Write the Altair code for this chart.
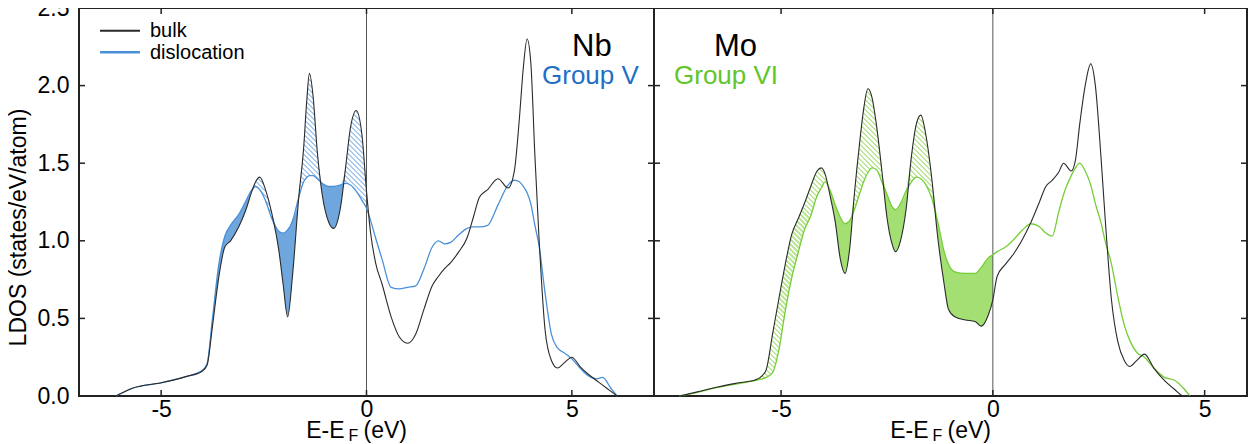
import altair as alt
import numpy as np
import pandas as pd

FONT = "Liberation Sans"

# ---------------- data ----------------
nb_E = [-6.1, -5.7, -5.0, -4.4, -4.0, -3.88, -3.75, -3.6, -3.45, -3.31, -3.11, -2.95,
        -2.79, -2.70, -2.60, -2.46, -2.30, -2.13, -2.03, -1.92, -1.80, -1.65, -1.53,
        -1.45, -1.39, -1.30, -1.20, -1.08, -0.92, -0.80, -0.63, -0.51, -0.39, -0.25,
        -0.11, 0.0, 0.1, 0.22, 0.38, 0.6, 0.8, 1.0, 1.2, 1.4, 1.6, 1.75, 1.9, 2.05,
        2.25, 2.45, 2.6, 2.75, 2.95, 3.2, 3.45, 3.6, 3.72, 3.82, 3.91, 4.0, 4.1, 4.2,
        4.35, 4.5, 4.65, 4.8, 5.0, 5.2, 5.4, 5.6, 5.75, 5.95, 6.1]
nb_bulk = [0.00, 0.05, 0.085, 0.125, 0.16, 0.20, 0.45, 0.76, 0.96, 1.00, 1.09, 1.19,
           1.32, 1.38, 1.41, 1.33, 1.17, 0.93, 0.72, 0.51, 0.78, 1.28, 1.60,
           1.92, 2.08, 1.93, 1.58, 1.30, 1.12, 1.08, 1.22, 1.47, 1.73, 1.84,
           1.68, 1.32, 1.05, 0.86, 0.72, 0.51, 0.38, 0.34, 0.40, 0.56, 0.71, 0.77, 0.82, 0.86,
           0.93, 1.02, 1.15, 1.28, 1.33, 1.40, 1.34, 1.45, 1.78, 2.12, 2.30, 2.15, 1.55, 1.02,
           0.42, 0.23, 0.18, 0.21, 0.25, 0.19, 0.14, 0.10, 0.07, 0.03, 0.00]
nb_disl = [0.00, 0.05, 0.085, 0.125, 0.165, 0.21, 0.50, 0.84, 1.03, 1.10, 1.17, 1.25,
           1.33, 1.35, 1.33, 1.26, 1.14, 1.06, 1.05, 1.07, 1.13, 1.28, 1.38,
           1.41, 1.42, 1.42, 1.40, 1.37, 1.35, 1.35, 1.36, 1.37, 1.36, 1.32,
           1.26, 1.21, 1.13, 1.02, 0.88, 0.70, 0.69, 0.70, 0.71, 0.82, 0.96, 1.00, 0.98, 0.99,
           1.04, 1.08, 1.09, 1.09, 1.10, 1.23, 1.36, 1.39, 1.38, 1.35, 1.31, 1.24, 1.10, 0.97,
           0.66, 0.40, 0.31, 0.28, 0.24, 0.18, 0.13, 0.11, 0.12, 0.05, 0.00]

mo_E = [-7.4, -7.0, -6.5, -6.0, -5.6, -5.45, -5.35, -5.2, -5.05, -4.9, -4.75, -4.6,
        -4.45, -4.3, -4.15, -4.05, -3.96, -3.85, -3.72, -3.60, -3.49, -3.38, -3.27,
        -3.15, -3.05, -2.95, -2.85, -2.75, -2.62, -2.50, -2.38, -2.30, -2.18, -2.05,
        -1.92, -1.80, -1.70, -1.58, -1.45, -1.30, -1.15, -1.05, -0.90, -0.65, -0.42,
        -0.27, -0.11, 0.0, 0.1, 0.3, 0.5, 0.7, 0.9, 1.1, 1.25, 1.4, 1.55, 1.67, 1.85,
        1.95, 2.05, 2.18, 2.31, 2.42, 2.55, 2.65, 2.8, 2.95, 3.1, 3.23, 3.4, 3.58, 3.8,
        4.05, 4.3, 4.5, 4.65]
mo_bulk = [0.0, 0.025, 0.058, 0.085, 0.105, 0.13, 0.17, 0.40, 0.63, 0.85, 1.04, 1.14,
           1.24, 1.35, 1.45, 1.47, 1.43, 1.30, 1.12, 0.88, 0.79, 0.95, 1.30,
           1.62, 1.85, 1.98, 1.92, 1.75, 1.45, 1.15, 0.98, 0.93, 1.00, 1.20,
           1.55, 1.76, 1.81, 1.68, 1.42, 1.02, 0.72, 0.56, 0.51, 0.49, 0.48,
           0.45, 0.52, 0.62, 0.77, 0.85, 0.92, 1.01, 1.12, 1.25, 1.35, 1.39, 1.44, 1.50, 1.45,
           1.52, 1.75, 2.00, 2.14, 2.00, 1.55, 1.15, 0.62, 0.35, 0.23, 0.19, 0.23, 0.27, 0.18,
           0.10, 0.04, 0.00, 0.00]
mo_disl = [0.0, 0.022, 0.055, 0.08, 0.10, 0.11, 0.12, 0.15, 0.30, 0.55, 0.76, 0.92,
           1.07, 1.16, 1.29, 1.34, 1.38, 1.33, 1.23, 1.15, 1.11, 1.13, 1.20,
           1.30, 1.38, 1.44, 1.47, 1.46, 1.38, 1.30, 1.22, 1.20, 1.24, 1.32,
           1.38, 1.41, 1.40, 1.36, 1.28, 1.12, 0.93, 0.85, 0.80, 0.79, 0.79,
           0.83, 0.89, 0.91, 0.93, 0.96, 1.01, 1.07, 1.11, 1.09, 1.05, 1.03, 1.18, 1.30, 1.42,
           1.47, 1.50, 1.45, 1.36, 1.24, 1.12, 1.00, 0.85, 0.64, 0.46, 0.36, 0.28, 0.25, 0.18,
           0.12, 0.10, 0.05, 0.00]

y_ticks = [0.0, 0.5, 1.0, 1.5, 2.0, 2.5]
x_ticks = [-5, 0, 5]
legend_labels = ["bulk", "dislocation"]

# ---------------- layout / style ----------------
H = 388
W_NB = 575
W_MO = 593
PAD_LEFT = 71
BULK_COLOR = "#2a2a2a"
FRAME = "#222222"


def hatch_gradient(fill, domain, width, color):
    w = (fill["E"].max() - fill["E"].min()) * width / (domain[1] - domain[0])
    h = (fill["upper"].max() - fill["disl"].min()) * H / 2.5
    s = (w * w + h * h) / (w + h)
    n = max(1, int(round((w + h) / 5.0)))
    f = 0.45
    stops = []
    for k in range(n):
        a = k / n
        b = (k + f) / n
        c = (k + 1) / n
        stops += [alt.GradientStop(offset=a, color=color),
                  alt.GradientStop(offset=b, color=color),
                  alt.GradientStop(offset=b, color="rgba(255,255,255,0)"),
                  alt.GradientStop(offset=c, color="rgba(255,255,255,0)")]
    return alt.LinearGradient(gradient="linear", stops=stops,
                              x1=0, y1=1, x2=w / s, y2=1 - h / s)


def text_layer(txt, x, y, size, color, align="left"):
    return alt.Chart(pd.DataFrame({"t": [txt]})).mark_text(
        align=align, baseline="alphabetic", fontSize=size, font=FONT, color=color
    ).encode(text="t:N", x=alt.value(x), y=alt.value(y))


def panel(E, bulk, disl, domain, width, fill_lo, line_color, solid_color, hatch_color,
          name, group, group_color, name_x, group_x, left_axis, legend):
    df = pd.DataFrame({"E": E, "bulk": bulk, "disl": disl})
    df["upper"] = np.maximum(df["bulk"], df["disl"])
    fill = df[(df["E"] >= fill_lo) & (df["E"] <= 0)]

    xscale = alt.Scale(domain=domain, nice=False, zero=False)
    yscale = alt.Scale(domain=[0, 2.5], nice=False, zero=False)
    xaxis = alt.Axis(values=x_ticks, labelExpr="'' + datum.value", title=None,
                     ticks=False, tickSize=0, domain=False, grid=False,
                     labelPadding=2.5, labelFontSize=23, labelColor="black",
                     labelFont=FONT)
    if left_axis:
        yaxis = alt.Axis(values=y_ticks, format=".1f", title="LDOS (states/eV/atom)",
                         ticks=False, tickSize=0, domain=False, grid=False,
                         labelPadding=10, labelFontSize=23, labelColor="black",
                         labelFont=FONT, titleFont=FONT, titleFontSize=23,
                         titleFontWeight="normal", titleColor="black",
                         titlePadding=7, titleY=219)
    else:
        yaxis = None

    def X(f):
        return alt.X(f"{f}:Q", scale=xscale, axis=xaxis)

    def Y(f):
        return alt.Y(f"{f}:Q", scale=yscale, axis=yaxis)

    solid = alt.Chart(fill).mark_area(interpolate="monotone", color=solid_color,
                                      opacity=1).encode(
        x=X("E"), y=Y("upper"), y2="bulk:Q")
    hatch = alt.Chart(fill).mark_area(
        interpolate="monotone",
        fill=hatch_gradient(fill, domain, width, hatch_color), opacity=1).encode(
        x=X("E"), y=Y("upper"), y2="disl:Q")
    zero = alt.Chart(pd.DataFrame({"E": [0]})).mark_rule(
        color="#555555", strokeWidth=1).encode(x=X("E"), y=alt.value(0), y2=alt.value(H))
    dline = alt.Chart(df).mark_line(interpolate="monotone", color=line_color,
                                    strokeWidth=1.3).encode(x=X("E"), y=Y("disl"))
    bline = alt.Chart(df).mark_line(interpolate="monotone", color=BULK_COLOR,
                                    strokeWidth=1.1).encode(x=X("E"), y=Y("bulk"))

    yt = pd.DataFrame({"y": y_ticks})
    xt = pd.DataFrame({"E": x_ticks})
    ticks = [
        alt.Chart(yt).mark_rule(color=FRAME, strokeWidth=1.5).encode(
            y=Y("y"), x=alt.value(0), x2=alt.value(6)),
        alt.Chart(yt).mark_rule(color=FRAME, strokeWidth=1.5).encode(
            y=Y("y"), x=alt.value(width - 6), x2=alt.value(width)),
        alt.Chart(xt).mark_rule(color=FRAME, strokeWidth=1.5).encode(
            x=X("E"), y=alt.value(H - 6), y2=alt.value(H)),
        alt.Chart(xt).mark_rule(color=FRAME, strokeWidth=1.5).encode(
            x=X("E"), y=alt.value(0), y2=alt.value(6)),
    ]

    c = width / 2
    texts = [
        text_layer(name, name_x, 48, 31, "black"),
        text_layer(group, group_x, 76, 26, group_color),
        text_layer("E-E", c - 22, H + 42, 23, "black", align="right"),
        text_layer("F", c - 18, H + 45, 16, "black"),
        text_layer("(eV)", c - 3, H + 42, 23, "black"),
    ]

    layers = [solid, hatch, zero, dline, bline] + ticks + texts

    if legend:
        lg = pd.DataFrame({"t": legend_labels})
        layers += [
            alt.Chart(lg.iloc[[0]]).mark_rule(color=BULK_COLOR, strokeWidth=2).encode(
                x=alt.value(21), x2=alt.value(61), y=alt.value(22.7)),
            alt.Chart(lg.iloc[[1]]).mark_rule(color=line_color, strokeWidth=2.5).encode(
                x=alt.value(21), x2=alt.value(61), y=alt.value(44.3)),
            alt.Chart(lg.iloc[[0]]).mark_text(align="left", baseline="alphabetic",
                                              fontSize=20, font=FONT, color="black").encode(
                text="t:N", x=alt.value(71), y=alt.value(29)),
            alt.Chart(lg.iloc[[1]]).mark_text(align="left", baseline="alphabetic",
                                              fontSize=20, font=FONT, color="black").encode(
                text="t:N", x=alt.value(71), y=alt.value(51)),
        ]

    return alt.layer(*layers).properties(width=width, height=H)


nb = panel(nb_E, nb_bulk, nb_disl, [-7, 7], W_NB, -3.9, "#4a90d9", "#6fa6dd", "#a9c9ee",
           "Nb", "Group V", "#1f6fc6", 493, 463, True, True)
mo = panel(mo_E, mo_bulk, mo_disl, [-8, 6], W_MO, -5.6, "#74cf36", "#a3df73", "#bfe79c",
           "Mo", "Group VI", "#62c52a", 60, 20, False, False)

chart = alt.hconcat(nb, mo, spacing=0, bounds="flush").properties(
    autosize=alt.AutoSizeParams(type="none"),
    padding={"left": PAD_LEFT, "top": 0, "right": 1240 - PAD_LEFT, "bottom": 428},
).configure(font=FONT).configure_view(stroke=FRAME, strokeWidth=2)

chart.save("out.html", embed_options={"renderer": "svg", "actions": False})
